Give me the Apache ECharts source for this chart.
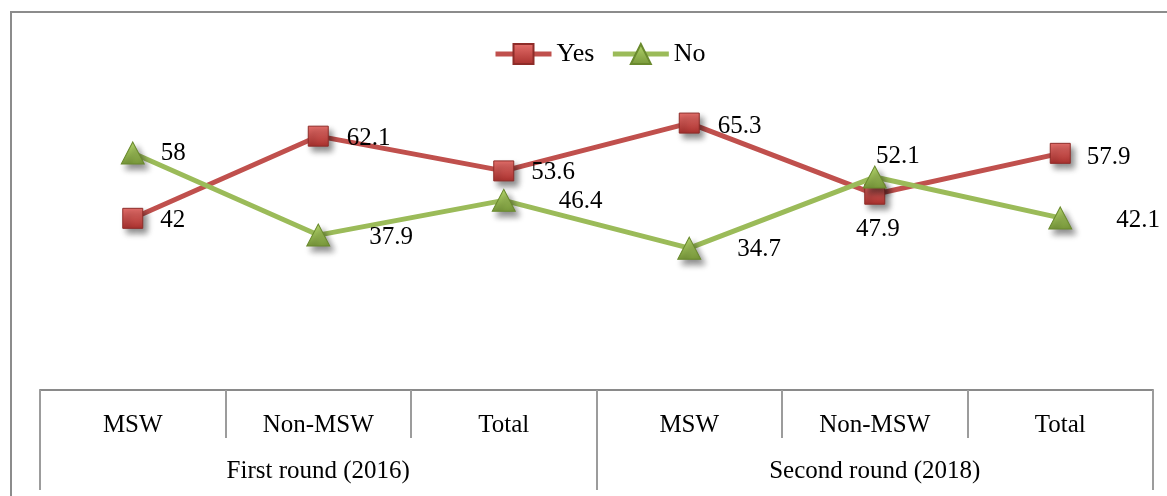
<!DOCTYPE html>
<html>
<head>
<meta charset="utf-8">
<script src="https://cdn.jsdelivr.net/npm/echarts@6/dist/echarts.min.js"></script>
<style>
  html, body { margin: 0; padding: 0; background: #fff; }
  #main { width: 1167px; height: 496px; }
</style>
</head>
<body>
<div id="main"></div>
<script>
// data
const groups = ["MSW", "Non-MSW", "Total", "MSW", "Non-MSW", "Total"];
const rounds = ["First round (2016)", "Second round (2018)"];
const yesValues = [42, 62.1, 53.6, 65.3, 47.9, 57.9];
const noValues = [58, 37.9, 46.4, 34.7, 52.1, 42.1];

// where each value label sits next to its marker
const yesLabelPos = [
  ["right", [17, 2]], ["right", [18, 2]], ["right", [17, 2]],
  ["right", [18, 3]], ["bottom", [3, 12]], ["right", [16, 4]]
];
const noLabelPos = [
  ["right", [16, 1]], ["right", [39, 2]], ["right", [43, 1]],
  ["right", [36, 1]], ["top", [23, 3]], ["right", [44, 3]]
];

const font = "'Liberation Serif', 'Times New Roman', serif";

const withLabels = (values, pos) =>
  values.map((v, i) => ({
    value: v,
    label: { position: pos[i][0], offset: pos[i][1], distance: 0 }
  }));

const chart = echarts.init(document.getElementById("main"));
const option = {
  animation: false,
  legend: {
    top: 36,
    left: 488,
    itemWidth: 56,
    itemHeight: 25,
    itemGap: 16,
    lineStyle: { width: 5 },
    textStyle: { fontFamily: font, fontSize: 26, color: "#000" },
    data: ["Yes", "No"]
  },
  grid: { left: 40, right: 14, top: 63, bottom: 106 },
  xAxis: [
    {
      type: "category",
      data: groups,
      axisLine: { show: true, lineStyle: { color: "#8a8a8a", width: 2 } },
      axisTick: { show: true, interval: 0, length: 48, lineStyle: { color: "#9c9c9c", width: 2 } },
      axisLabel: { interval: 0, margin: 23, fontFamily: font, fontSize: 25, color: "#000" }
    },
    {
      type: "category",
      data: rounds,
      position: "bottom",
      axisLine: { show: false },
      axisTick: { show: true, interval: 0, length: 100, lineStyle: { color: "#9c9c9c", width: 2 } },
      axisLabel: { interval: 0, margin: 69, fontFamily: font, fontSize: 25, color: "#000" }
    }
  ],
  yAxis: { type: "value", min: 0, max: 80, show: false },
  series: [
    {
      name: "Yes",
      type: "line",
      data: withLabels(yesValues, yesLabelPos),
      symbol: "rect",
      symbolSize: 20,
      lineStyle: { color: "#C0504D", width: 5 },
      itemStyle: {
        color: new echarts.graphic.LinearGradient(0, 0, 0, 1, [
          { offset: 0, color: "#E5706C" },
          { offset: 1, color: "#A8302D" }
        ]),
        borderColor: "#8E2C29",
        borderWidth: 1,
        shadowColor: "rgba(0,0,0,0.45)",
        shadowBlur: 6,
        shadowOffsetX: 4,
        shadowOffsetY: 5
      },
      label: { show: true, fontFamily: font, fontSize: 25, color: "#000" },
      z: 3
    },
    {
      name: "No",
      type: "line",
      data: withLabels(noValues, noLabelPos),
      symbol: "triangle",
      symbolSize: [23, 22],
      lineStyle: { color: "#9BBB59", width: 5 },
      itemStyle: {
        color: new echarts.graphic.LinearGradient(0, 0, 0, 1, [
          { offset: 0, color: "#B4D66C" },
          { offset: 1, color: "#78983A" }
        ]),
        borderColor: "#6A8A2E",
        borderWidth: 1,
        shadowColor: "rgba(0,0,0,0.45)",
        shadowBlur: 6,
        shadowOffsetX: 4,
        shadowOffsetY: 5
      },
      label: { show: true, fontFamily: font, fontSize: 25, color: "#000" },
      z: 4
    }
  ],
  graphic: [
    {
      type: "polyline",
      shape: { points: [[11, 496], [11, 12], [1167, 12]] },
      style: { stroke: "#8c8c8c", lineWidth: 2, fill: null }
    }
  ]
};
chart.setOption(option);
</script>
</body>
</html>
